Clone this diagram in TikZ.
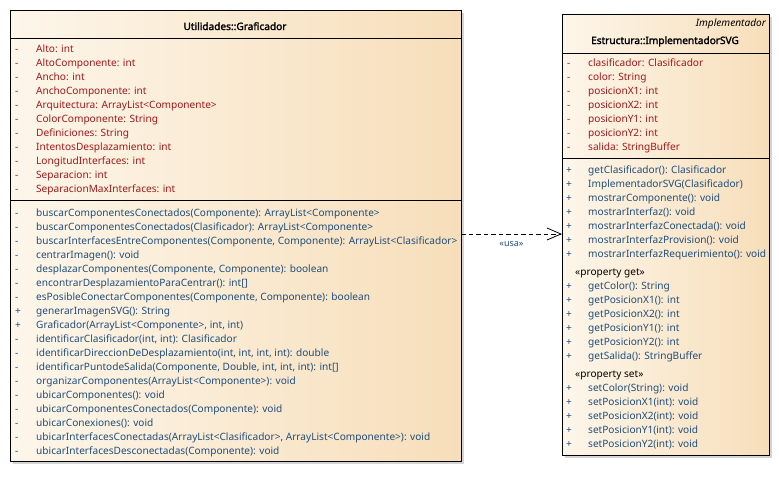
\documentclass[tikz,border=0pt]{standalone}
\usepackage{fontspec}
\setmainfont{Noto Sans}[AutoFakeBold=2]
\usetikzlibrary{arrows.meta,shadows}
\definecolor{attrc}{HTML}{A01818}
\definecolor{opc}{HTML}{1F4E7A}
\definecolor{fillL}{HTML}{FDF6EA}
\definecolor{fillR}{HTML}{F7DEBA}
\definecolor{shad}{HTML}{D4D4D4}
\tikzset{
  classbox/.style={draw=black, line width=1pt, left color=fillL, right color=fillR, anchor=north west, inner sep=0pt, outer sep=0pt},
  shadowbox/.style={fill=shad, draw=none, anchor=north west, inner sep=0pt, outer sep=0pt},
  sep/.style={line width=1pt},
  row/.style={anchor=base west, inner sep=0pt, font=\fontsize{10.1}{12}\selectfont},
  attr/.style={row, text=attrc},
  oper/.style={row, text=opc},
  vismark/.style={row},
  stereo/.style={row, text=black},
  ttl/.style={anchor=base, inner sep=0pt, font=\bfseries\fontsize{10.1}{12}\selectfont},
  usesarrow/.style={dashed, dash pattern=on 4.5pt off 3pt, line width=0.8pt, -{Straight Barb[length=14pt,width=12pt,line width=0.8pt]}},
}
\begin{document}
\begin{tikzpicture}[x=1pt,y=-1pt]
\useasboundingbox (0,0) rectangle (779,491);
% --- Graficador
\node[shadowbox, minimum width=451, minimum height=451] (gs) at (13,13) {};
\node[classbox, minimum width=451, minimum height=451] (g) at (10,10) {};
\node[ttl] (gt) at (235,30) {Utilidades::Graficador};
\draw[sep] (g.west |- 0,38) -- (g.east |- 0,38);
\draw[sep] (g.west |- 0,200) -- (g.east |- 0,200);
\foreach \t [count=\i] in {Alto: int,AltoComponente: int,Ancho: int,AnchoComponente: int,Arquitectura: ArrayList<Componente>,ColorComponente: String,Definiciones: String,IntentosDesplazamiento: int,LongitudInterfaces: int,Separacion: int,SeparacionMaxInterfaces: int}{
  \node[vismark, text=attrc] (gam\i) at (15,{52+14*(\i-1)}) {-};
  \node[attr] (ga\i) at (36,{52+14*(\i-1)}) {\t};
}
\foreach \m/\t [count=\i] in {
 -/{buscarComponentesConectados(Componente): ArrayList<Componente>},
 -/{buscarComponentesConectados(Clasificador): ArrayList<Componente>},
 -/{buscarInterfacesEntreComponentes(Componente, Componente): ArrayList<Clasificador>},
 -/{centrarImagen(): void},
 -/{desplazarComponentes(Componente, Componente): boolean},
 -/{encontrarDesplazamientoParaCentrar(): int[]},
 -/{esPosibleConectarComponentes(Componente, Componente): boolean},
 +/{generarImagenSVG(): String},
 +/{Graficador(ArrayList<Componente>, int, int)},
 -/{identificarClasificador(int, int): Clasificador},
 -/{identificarDireccionDeDesplazamiento(int, int, int, int): double},
 -/{identificarPuntodeSalida(Componente, Double, int, int, int): int[]},
 -/{organizarComponentes(ArrayList<Componente>): void},
 -/{ubicarComponentes(): void},
 -/{ubicarComponentesConectados(Componente): void},
 -/{ubicarConexiones(): void},
 -/{ubicarInterfacesConectadas(ArrayList<Clasificador>, ArrayList<Componente>): void},
 -/{ubicarInterfacesDesconectadas(Componente): void}}{
  \node[vismark, text=opc] (gom\i) at (15,{216+14*(\i-1)}) {\m};
  \node[oper] (go\i) at (36,{216+14*(\i-1)}) {\t};
}
% --- ImplementadorSVG
\node[shadowbox, minimum width=207, minimum height=441] (ss) at (565,17) {};
\node[classbox, minimum width=207, minimum height=441] (s) at (562,14) {};
\node[row, anchor=base east, font=\itshape\fontsize{10.1}{12}\selectfont] (st0) at (766,26) {Implementador};
\node[ttl] (st) at (665,44) {Estructura::ImplementadorSVG};
\draw[sep] (s.west |- 0,53) -- (s.east |- 0,53);
\draw[sep] (s.west |- 0,158) -- (s.east |- 0,158);
\foreach \t [count=\i] in {clasificador: Clasificador,color: String,posicionX1: int,posicionX2: int,posicionY1: int,posicionY2: int,salida: StringBuffer}{
  \node[vismark, text=attrc] (sam\i) at (567,{66+14*(\i-1)}) {-};
  \node[attr] (sa\i) at (588,{66+14*(\i-1)}) {\t};
}
\foreach \t [count=\i] in {getClasificador(): Clasificador,ImplementadorSVG(Clasificador),mostrarComponente(): void,mostrarInterfaz(): void,mostrarInterfazConectada(): void,mostrarInterfazProvision(): void,mostrarInterfazRequerimiento(): void}{
  \node[vismark, text=opc] (som\i) at (566,{173+14*(\i-1)}) {+};
  \node[oper] (so\i) at (588,{173+14*(\i-1)}) {\t};
}
\node[stereo] (pg) at (575,275) {«property get»};
\foreach \t [count=\i] in {getColor(): String,getPosicionX1(): int,getPosicionX2(): int,getPosicionY1(): int,getPosicionY2(): int,getSalida(): StringBuffer}{
  \node[vismark, text=opc] (sgm\i) at (566,{289+14*(\i-1)}) {+};
  \node[oper] (sg\i) at (588,{289+14*(\i-1)}) {\t};
}
\node[stereo] (ps) at (575,377) {«property set»};
\foreach \t [count=\i] in {setColor(String): void,setPosicionX1(int): void,setPosicionX2(int): void,setPosicionY1(int): void,setPosicionY2(int): void}{
  \node[vismark, text=opc] (ssm\i) at (566,{391+14*(\i-1)}) {+};
  \node[oper] (ss\i) at (588,{391+14*(\i-1)}) {\t};
}
% --- dependency
\draw[usesarrow] (g.east |- 0,234) -- node[below=7pt, inner sep=0pt, text=opc, font=\fontsize{9}{10}\selectfont] (lbl) {«usa»} (s.west |- 0,234);
\end{tikzpicture}
\end{document}
